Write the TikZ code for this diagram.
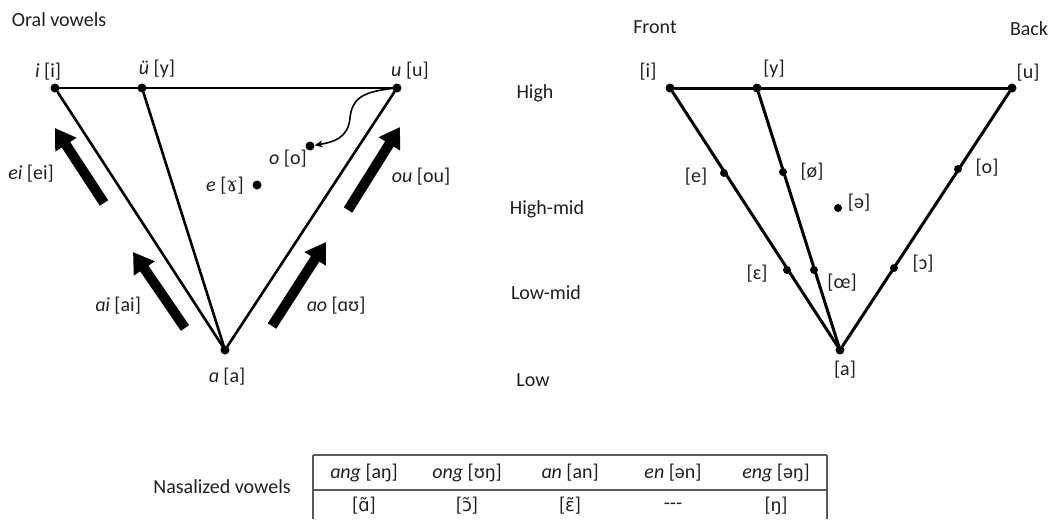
\documentclass[tikz,border=0pt]{standalone}
\usepackage{fontspec}
\setmainfont{Carlito}
\newfontfamily\ipaserif{DejaVu Serif}
\newfontfamily\ipasans{DejaVu Sans}
\usetikzlibrary{arrows.meta}
\begin{document}
\begin{tikzpicture}[x=1pt,y=-1pt,
  every node/.style={font=\fontsize{20}{24}\selectfont, inner sep=0pt, text=black!88},
  dot/.style={circle, fill=black, inner sep=0pt, minimum size=9pt},
  sdot/.style={circle, fill=black, inner sep=0pt, minimum size=8pt},
  triline/.style={line width=2.6pt, line cap=round},
  rtriline/.style={line width=3pt, line cap=round},
  fatarrow/.style={line width=10pt, -{Triangle[width=24pt,length=20pt]}},
  curvearrow/.style={line width=1.6pt, -{Stealth[length=8pt,width=7pt]}},
  tabline/.style={line width=1.5pt, draw=black!65}]
\useasboundingbox (0,0) rectangle (1054,519);

% ---------------- left triangle ----------------
\node[anchor=center] (oral) at (59,20) {Oral vowels};

\node[dot] (i) at (55,88) {};
\node[dot] (ue) at (142,88) {};
\node[dot] (u) at (397,88) {};
\node[dot] (a) at (225,350) {};
\node[dot] (o) at (310,146) {};
\node[dot] (e) at (257,185) {};

\draw[triline] (i) -- (u);
\draw[triline] (i) -- (a);
\draw[triline] (ue) -- (a);
\draw[triline] (u) -- (a);

\draw[curvearrow] (u) .. controls (360,92) and (352,100) .. (350,118)
  .. controls (348,138) and (334,142) .. (o);

\node (li) at (48,72) {\textit{i} [i]};
\node (lue) at (157,69) {\textit{ü} [y]};
\node (lu) at (410,71) {\textit{u} [u]};
\node (la) at (227,377) {\textit{ɑ} [a]};
\node (lo) at (288,159) {\textit{o} [o]};
\node (le) at (225,186) {\textit{e} [{\ipaserif ɤ}]};
\node (lei) at (31,174) {\textit{ei} [ei]};
\node (lou) at (421,177) {\textit{ou} [ou]};
\node (lai) at (118,306) {\textit{ɑi} [ai]};
\node (lao) at (336,306) {\textit{ɑo} [ɑʊ]};

\coordinate (a1s) at (104,203); \coordinate (a1e) at (55,128);
\coordinate (a2s) at (185,328); \coordinate (a2e) at (133,252);
\coordinate (a3s) at (272,326); \coordinate (a3e) at (326,242);
\coordinate (a4s) at (348,210); \coordinate (a4e) at (400,127);
\draw[fatarrow] (a1s) -- (a1e);
\draw[fatarrow] (a2s) -- (a2e);
\draw[fatarrow] (a3s) -- (a3e);
\draw[fatarrow] (a4s) -- (a4e);

% ---------------- height labels ----------------
\node (high) at (535,93) {High};
\node (highmid) at (547,209) {High-mid};
\node (lowmid) at (546,293) {Low-mid};
\node (low) at (533,380) {Low};

% ---------------- right triangle ----------------
\node (front) at (655,27) {Front};
\node (back) at (1029,29) {Back};

\node[dot] (ri) at (670,88) {};
\node[dot] (ry) at (757,88) {};
\node[dot] (ru) at (1012,88) {};
\node[dot] (ra) at (840,350) {};

\draw[rtriline] (ri) -- (ru);
\draw[rtriline] (ri) -- (ra);
\draw[rtriline] (ry) -- (ra);
\draw[rtriline] (ru) -- (ra);

\node[sdot] (re) at (724,173) {};
\node[sdot] (roe) at (783,172) {};
\node[sdot] (ro) at (958,169) {};
\node[sdot] (rschwa) at (838,208) {};
\node[sdot] (reps) at (787,270) {};
\node[sdot] (roel) at (814,270) {};
\node[sdot] (ropen) at (894,268) {};

\node (lri) at (648,72) {[i]};
\node (lry) at (774,69) {[y]};
\node (lru) at (1028,73) {[u]};
\node (lra) at (845,370) {[a]};
\node (lre) at (696,177) {[e]};
\node (lroe) at (812,172) {[ø]};
\node (lro) at (987,168) {[o]};
\node (lrschwa) at (859,203) {[ə]};
\node (lreps) at (757,274) {[ɛ]};
\node (lroel) at (842,283) {[œ]};
\node (lropen) at (923,264) {[ɔ]};

% ---------------- table ----------------
\node (nasal) at (222,487) {Nasalized vowels};

\coordinate (tl) at (313,455); \coordinate (tr) at (827,455);
\coordinate (ml) at (313,490); \coordinate (mr) at (827,490);
\coordinate (bl) at (313,519); \coordinate (br) at (827,519);
\draw[tabline] (tl) -- (tr);
\draw[tabline] (ml) -- (mr);
\draw[tabline] (tl) -- (bl);
\draw[tabline] (tr) -- (br);

\node (h1) at (364,473) {\textit{ɑng} [aŋ]};
\node (h2) at (467,473) {\textit{ong} [ʊŋ]};
\node (h3) at (570,473) {\textit{ɑn} [an]};
\node (h4) at (673,473) {\textit{en} [ən]};
\node (h5) at (776,473) {\textit{eng} [əŋ]};

\node (c1) at (364,506) {[{\ipasans\fontsize{18}{22}\selectfont ɑ̃}]};
\node (c2) at (467,506) {[{\ipasans\fontsize{18}{22}\selectfont ɔ̃}]};
\node (c3) at (570,506) {[{\ipasans\fontsize{18}{22}\selectfont ɛ̃}]};
\node (c4) at (673,506) {{-}{-}{-}};
\node (c5) at (776,506) {[ŋ]};
\end{tikzpicture}
\end{document}
